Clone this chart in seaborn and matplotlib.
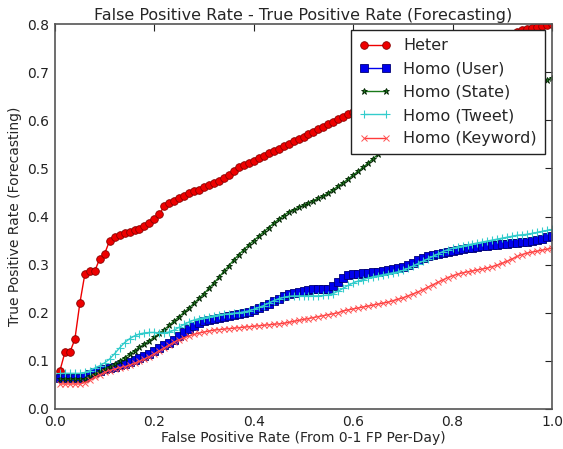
import numpy as np
import pandas as pd
import matplotlib
matplotlib.use("Agg")
import matplotlib.pyplot as plt
import seaborn as sns

# False positive rate (x), 100 steps
fpr = [round(0.01 * i, 2) for i in range(1, 101)]

heter = [
    0.080, 0.118, 0.118, 0.145, 0.220, 0.280, 0.287, 0.287, 0.312, 0.323,
    0.350, 0.357, 0.362, 0.365, 0.368, 0.371, 0.375, 0.380, 0.387, 0.395,
    0.405, 0.422, 0.428, 0.433, 0.438, 0.443, 0.448, 0.452, 0.456, 0.461,
    0.466, 0.470, 0.474, 0.480, 0.487, 0.494, 0.502, 0.508, 0.512, 0.516,
    0.521, 0.526, 0.531, 0.536, 0.541, 0.546, 0.551, 0.556, 0.561, 0.566,
    0.571, 0.576, 0.581, 0.587, 0.592, 0.597, 0.602, 0.607, 0.612, 0.618,
    0.627, 0.632, 0.637, 0.642, 0.647, 0.652, 0.657, 0.662, 0.667, 0.672,
    0.677, 0.682, 0.687, 0.692, 0.697, 0.702, 0.707, 0.712, 0.717, 0.722,
    0.727, 0.732, 0.737, 0.742, 0.747, 0.752, 0.757, 0.762, 0.767, 0.772,
    0.776, 0.780, 0.784, 0.787, 0.790, 0.792, 0.794, 0.796, 0.798, 0.800,
]

homo_user = [
    0.065, 0.065, 0.065, 0.065, 0.065, 0.067, 0.072, 0.077, 0.080, 0.083,
    0.086, 0.088, 0.091, 0.094, 0.097, 0.101, 0.105, 0.110, 0.115, 0.120,
    0.126, 0.132, 0.138, 0.144, 0.152, 0.160, 0.167, 0.173, 0.178, 0.182,
    0.185, 0.187, 0.189, 0.191, 0.193, 0.195, 0.197, 0.199, 0.202, 0.206,
    0.210, 0.214, 0.219, 0.224, 0.229, 0.234, 0.238, 0.242, 0.244, 0.246,
    0.248, 0.249, 0.249, 0.249, 0.250, 0.256, 0.264, 0.272, 0.278, 0.280,
    0.281, 0.282, 0.283, 0.284, 0.285, 0.286, 0.288, 0.290, 0.293, 0.296,
    0.300, 0.304, 0.309, 0.313, 0.317, 0.320, 0.323, 0.325, 0.327, 0.329,
    0.331, 0.333, 0.334, 0.335, 0.337, 0.338, 0.339, 0.340, 0.341, 0.342,
    0.343, 0.344, 0.345, 0.346, 0.348, 0.350, 0.352, 0.354, 0.357, 0.360,
]

homo_state = [
    0.062, 0.062, 0.062, 0.062, 0.062, 0.063, 0.068, 0.073, 0.078, 0.083,
    0.088, 0.093, 0.100, 0.107, 0.114, 0.121, 0.128, 0.135, 0.142, 0.149,
    0.157, 0.165, 0.174, 0.183, 0.192, 0.201, 0.210, 0.220, 0.230, 0.240,
    0.251, 0.262, 0.274, 0.286, 0.298, 0.310, 0.321, 0.331, 0.341, 0.350,
    0.359, 0.368, 0.377, 0.386, 0.394, 0.402, 0.409, 0.414, 0.419, 0.423,
    0.428, 0.433, 0.438, 0.443, 0.449, 0.456, 0.463, 0.470, 0.478, 0.486,
    0.494, 0.502, 0.511, 0.520, 0.529, 0.538, 0.543, 0.548, 0.553, 0.558,
    0.563, 0.568, 0.573, 0.578, 0.583, 0.588, 0.593, 0.598, 0.603, 0.608,
    0.612, 0.617, 0.621, 0.625, 0.629, 0.633, 0.637, 0.641, 0.645, 0.649,
    0.653, 0.657, 0.661, 0.665, 0.668, 0.671, 0.675, 0.679, 0.684, 0.688,
]

homo_tweet = [
    0.074, 0.074, 0.074, 0.074, 0.074, 0.076, 0.080, 0.085, 0.090, 0.096,
    0.104, 0.115, 0.127, 0.138, 0.146, 0.152, 0.156, 0.158, 0.159, 0.159,
    0.158, 0.158, 0.160, 0.164, 0.170, 0.176, 0.181, 0.185, 0.188, 0.190,
    0.192, 0.194, 0.196, 0.197, 0.198, 0.199, 0.200, 0.202, 0.204, 0.207,
    0.211, 0.215, 0.220, 0.225, 0.229, 0.232, 0.234, 0.235, 0.235, 0.235,
    0.235, 0.235, 0.235, 0.236, 0.237, 0.240, 0.245, 0.251, 0.257, 0.262,
    0.266, 0.269, 0.272, 0.275, 0.277, 0.279, 0.281, 0.283, 0.285, 0.288,
    0.292, 0.297, 0.302, 0.307, 0.312, 0.317, 0.322, 0.327, 0.331, 0.334,
    0.337, 0.339, 0.341, 0.343, 0.345, 0.347, 0.349, 0.351, 0.353, 0.355,
    0.357, 0.359, 0.361, 0.362, 0.363, 0.365, 0.367, 0.369, 0.371, 0.373,
]

homo_keyword = [
    0.052, 0.052, 0.052, 0.052, 0.052, 0.055, 0.060, 0.066, 0.071, 0.076,
    0.080, 0.083, 0.086, 0.088, 0.091, 0.095, 0.099, 0.104, 0.109, 0.115,
    0.121, 0.127, 0.133, 0.139, 0.144, 0.148, 0.152, 0.155, 0.158, 0.160,
    0.162, 0.164, 0.165, 0.166, 0.167, 0.168, 0.169, 0.170, 0.171, 0.172,
    0.173, 0.174, 0.175, 0.176, 0.177, 0.178, 0.180, 0.182, 0.184, 0.186,
    0.188, 0.190, 0.192, 0.194, 0.196, 0.198, 0.200, 0.204, 0.206, 0.208,
    0.210, 0.212, 0.214, 0.216, 0.218, 0.220, 0.222, 0.225, 0.228, 0.231,
    0.235, 0.239, 0.243, 0.248, 0.253, 0.258, 0.263, 0.268, 0.273, 0.277,
    0.280, 0.283, 0.285, 0.287, 0.289, 0.291, 0.293, 0.296, 0.299, 0.303,
    0.307, 0.312, 0.317, 0.321, 0.324, 0.326, 0.328, 0.330, 0.332, 0.334,
]

labels = ["Heter", "Homo (User)", "Homo (State)", "Homo (Tweet)", "Homo (Keyword)"]
x_ticks = [0.0, 0.2, 0.4, 0.6, 0.8, 1.0]
y_ticks = [0.0, 0.1, 0.2, 0.3, 0.4, 0.5, 0.6, 0.7, 0.8]

sns.set_style("white")
plt.rcParams["font.family"] = ["DejaVu Sans"]

fig = plt.figure(figsize=(5.63, 4.49), dpi=100)
ax = fig.add_axes([55 / 563, 1 - 409 / 449, (552 - 55) / 563, (409 - 24) / 449])

styles = [
    dict(color="#ee0000", marker="o", markersize=5.5, markeredgecolor="#880000", markeredgewidth=0.6),
    dict(color="#0000ee", marker="s", markersize=5.2, markeredgecolor="#000077", markeredgewidth=0.6),
    dict(color="#1a7a1a", marker="*", markersize=5.0, markeredgecolor="#002200", markeredgewidth=0.6),
    dict(color="#33cccc", marker="+", markersize=6, markeredgecolor="#33cccc", markeredgewidth=0.8),
    dict(color="#ff3b3b", marker="x", markersize=4.5, markeredgecolor="#ff5050", markeredgewidth=0.7),
]
series = [heter, homo_user, homo_state, homo_tweet, homo_keyword]

for lab, ys, st in zip(labels, series, styles):
    sns.lineplot(x=fpr, y=ys, ax=ax, label=lab, linestyle="-", linewidth=1.0, **st)

ax.set_xlim(0, 1.0)
ax.set_ylim(0, 0.8)
ax.set_xticks(x_ticks)
ax.set_yticks(y_ticks)
ax.set_xticklabels([f"{v:.1f}" for v in x_ticks])
ax.set_yticklabels([f"{v:.1f}" for v in y_ticks])
ax.tick_params(direction="in", top=True, right=True, length=5, width=0.8,
               labelsize=10, colors="#222222", pad=4)
for sp in ax.spines.values():
    sp.set_color("#555555")
    sp.set_linewidth(1.2)

ax.set_title("False Positive Rate - True Positive Rate (Forecasting)", fontsize=11.5, pad=3)
ax.set_xlabel("False Positive Rate (From 0-1 FP Per-Day)", fontsize=10, labelpad=2)
ax.set_ylabel("True Positive Rate (Forecasting)", fontsize=10, labelpad=4)

leg = ax.legend(loc="upper right", bbox_to_anchor=(0.986, 0.984), borderaxespad=0,
                numpoints=2, fontsize=11.5, frameon=True, fancybox=False,
                handlelength=2.0, borderpad=0.5, labelspacing=0.52, handletextpad=0.8)
leg.get_frame().set_edgecolor("#222222")
leg.get_frame().set_linewidth(1.0)
leg.get_frame().set_alpha(1.0)

fig.savefig("out.png", dpi=100)
